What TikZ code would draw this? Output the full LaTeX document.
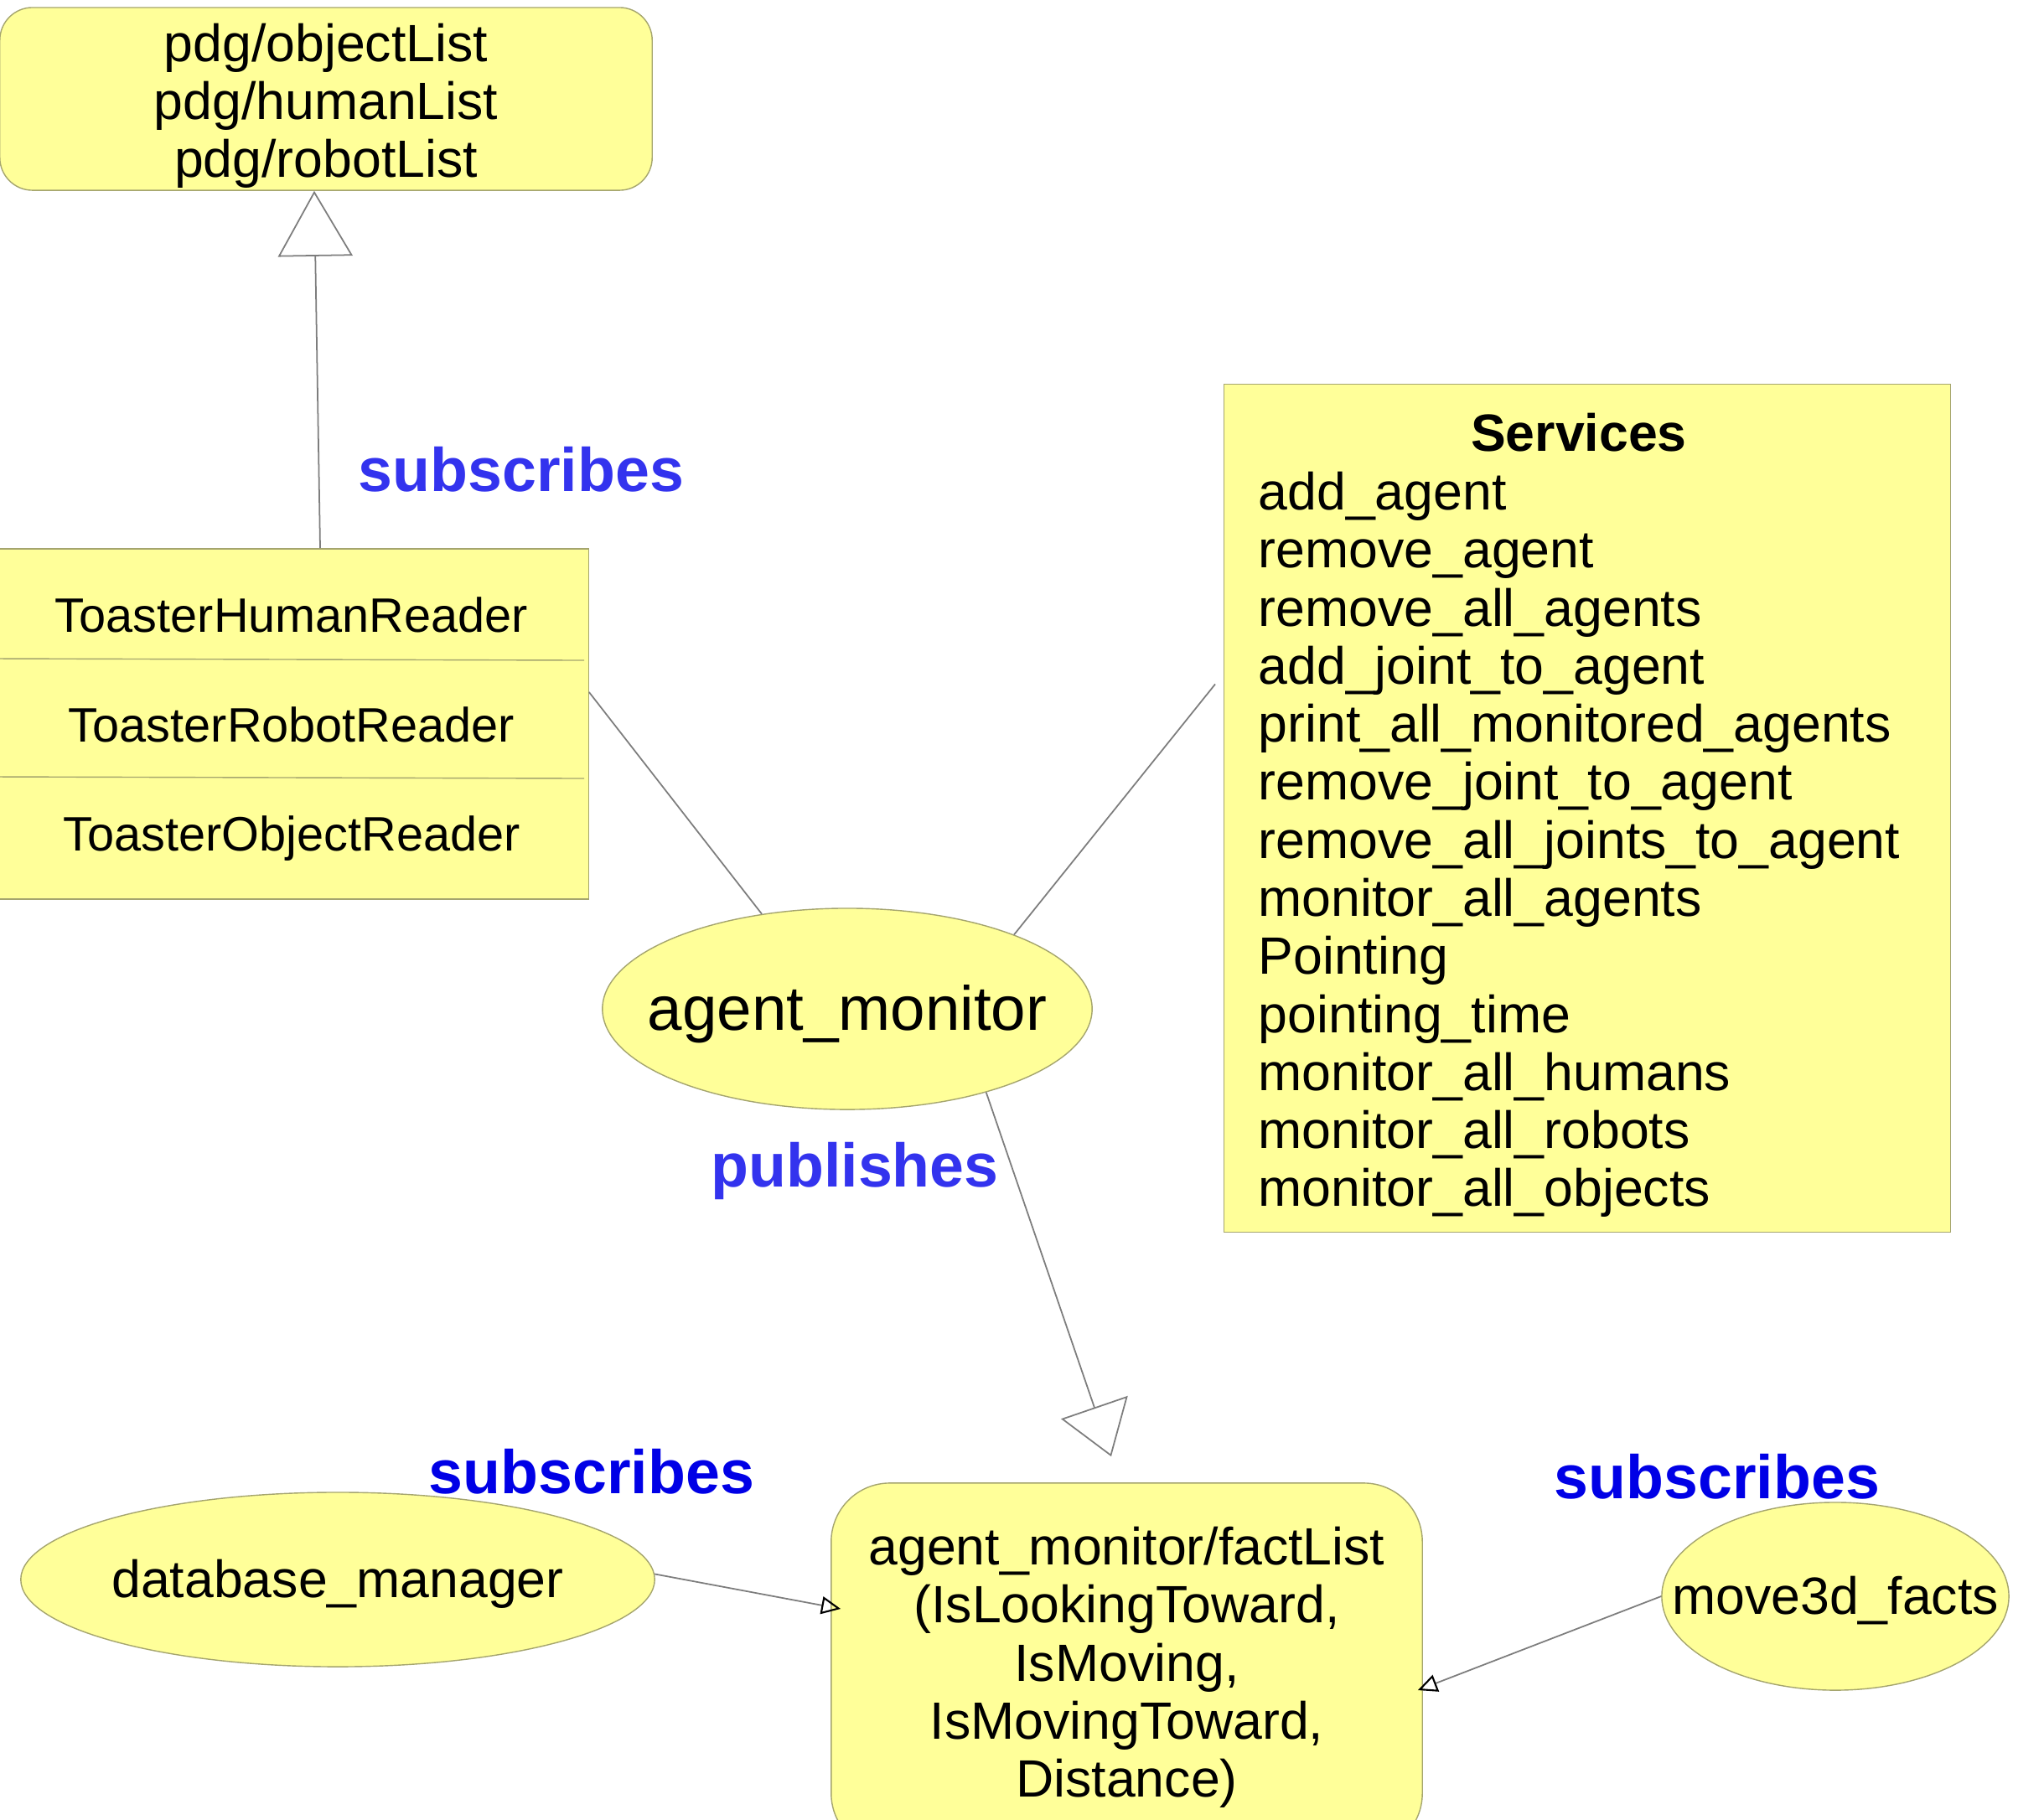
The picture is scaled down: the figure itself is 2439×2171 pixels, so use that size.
\documentclass[tikz,border=0pt]{standalone}
\usepackage{fontspec}
\setmainfont{Liberation Sans}
\usetikzlibrary{positioning, arrows.meta, shapes.geometric}

\definecolor{noteyellow}{RGB}{255,255,153}
\definecolor{noteedge}{RGB}{165,165,110}
\definecolor{linkgray}{RGB}{125,125,125}
\definecolor{lblblue}{RGB}{51,51,238}
\definecolor{lbldark}{RGB}{0,0,230}

\begin{document}
\begin{tikzpicture}[x=0.01cm, y=-0.01cm,
            topic/.style={rectangle, draw=noteedge, fill=noteyellow, inner sep=0pt, align=center, font=\fontsize{17.8}{19.7}\selectfont},
            proc/.style={ellipse, draw=noteedge, fill=noteyellow, inner sep=0pt, text height=15.7pt, font=\fontsize{17.8}{19.7}\selectfont},
            txt/.style={inner sep=0pt, font=\fontsize{17.8}{19.7}\selectfont},
            reader/.style={inner sep=0pt, font=\fontsize{16.4}{18}\selectfont},
            tag/.style={inner sep=0pt, font=\fontsize{20.9}{25}\selectfont\bfseries},
            link/.style={draw=linkgray, line width=0.5pt},
            bigtri/.style={link, -{Triangle[open, length=7.8mm, width=8.9mm]}},
            smalltri/.style={link, -{Triangle[open, length=2.3mm, width=2.1mm, color=black, line width=0.6pt]}}]

        \useasboundingbox (0,0) rectangle (2439,2171);
        \clip (0,0) rectangle (2439,2171);

        % topics read by the readers
        \node[topic, rounded corners=3.9mm, minimum width=7.78cm, minimum height=2.18cm] (lists) at (389,118)
            {\rule{0pt}{17.5pt}pdg/objectList\\pdg/humanList\\pdg/robotList};

        % reader classes
        \node[rectangle, draw=noteedge, fill=noteyellow, minimum width=7.04cm, minimum height=4.18cm] (readers) at (350,864) {};
        \node[reader] (hum) at (348,734) {ToasterHumanReader};
        \node[reader] (rob) at (348,865) {ToasterRobotReader};
        \node[reader] (obj) at (348,1001) {ToasterObjectReader};
        \draw[draw=noteedge, line width=0.4pt] (readers.west |- 0,786) -- (697,788);
        \draw[draw=noteedge, line width=0.4pt] (readers.west |- 0,927) -- (697,929);

        % services
        \node[rectangle, draw=noteedge, fill=noteyellow, minimum width=8.66cm, minimum height=10.11cm] (services) at (1894,964.5) {};
        \node[txt, font=\fontsize{17.8}{19.7}\selectfont\bfseries] (srvtitle) at (1884,516) {Services};
        \node[txt, align=left, anchor=west] (srvlist) at (1501,1008)
            {add\_agent\\remove\_agent\\remove\_all\_agents\\add\_joint\_to\_agent\\print\_all\_monitored\_agents\\remove\_joint\_to\_agent\\remove\_all\_joints\_to\_agent\\monitor\_all\_agents\\Pointing\\pointing\_time\\monitor\_all\_humans\\monitor\_all\_robots\\monitor\_all\_objects};

        % nodes
        \node[proc, minimum width=5.84cm, minimum height=2.4cm, text height=18.6pt, font=\fontsize{21.2}{25}\selectfont] (am) at (1011,1204) {\makebox[0pt]{agent\_monitor}};
        \node[proc, minimum width=7.56cm, minimum height=2.08cm] (dbm) at (403,1885) {\makebox[0pt]{database\_manager}};
        \node[proc, minimum width=4.14cm, minimum height=2.24cm] (m3d) at (2190,1905) {\makebox[0pt]{move3d\_facts}};
        \node[topic, rounded corners=7mm, minimum width=7.05cm, minimum height=4.4cm] (fact) at (1344.5,1990)
            {agent\_monitor/factList\\(IsLookingToward,\\IsMoving,\\IsMovingToward,\\Distance)};

        % labels
        \node[tag, text=lblblue] (sub1) at (622,560) {subscribes};
        \node[tag, text=lblblue] (pub) at (1020,1397) {publishes};
        \node[tag, text=lbldark] (sub2) at (706,1756) {subscribes};
        \node[tag, text=lbldark] (sub3) at (2049,1762) {subscribes};

        % connectors
        \draw[bigtri] ([xshift=3.2mm]readers.north) -- ([xshift=-1.4mm]lists.south);
        \draw[link] ([yshift=3.8mm]readers.east) -- (am.132);
        \draw[link] (am.24) -- ([shift={(-1mm,1.48cm)}]services.west);
        \draw[bigtri, -{Triangle[open, length=6.2mm, width=8.4mm]}] (am.-31) -- ([shift={(-1.85mm,3.1mm)}]fact.north);
        \draw[smalltri] (dbm.1.5) -- ([shift={(1.2mm,7mm)}]fact.west);
        \draw[smalltri] (m3d.west) -- ([shift={(-0.6mm,-2.7mm)}]fact.east);
    \end{tikzpicture}
\end{document}
